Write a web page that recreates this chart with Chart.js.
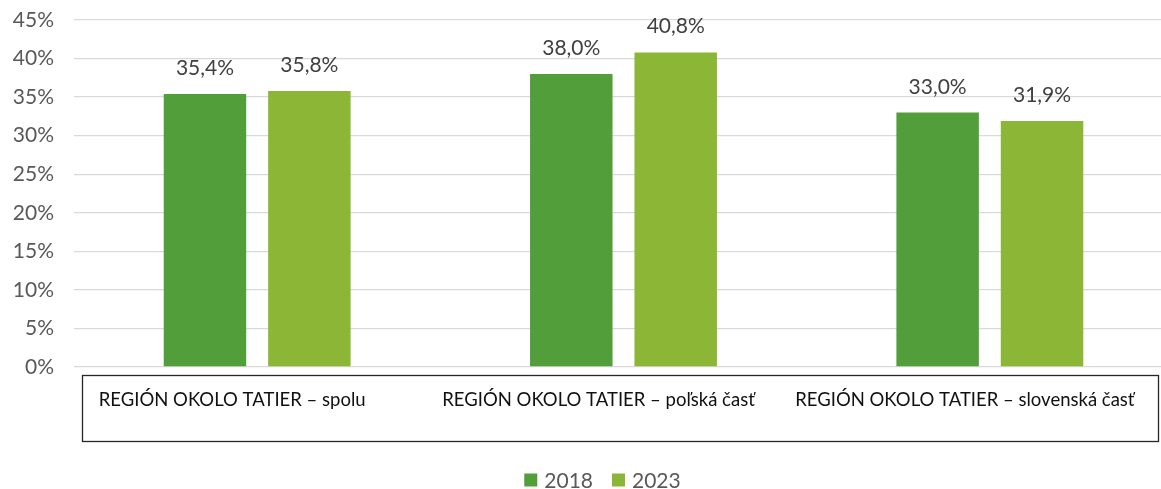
<!DOCTYPE html>
<html>
<head>
<meta charset="utf-8">
<script src="https://cdn.jsdelivr.net/npm/chart.js@4.4.1/dist/chart.umd.min.js"></script>
<style>
  html, body { margin: 0; padding: 0; background: #fff; overflow: hidden; }
  #wrap { width: 1174px; height: 489px; }
</style>
</head>
<body>
<div id="wrap"><canvas id="graf"></canvas></div>
<script>
const kategorie = [
  "REGIÓN OKOLO TATIER – spolu",
  "REGIÓN OKOLO TATIER – poľská časť",
  "REGIÓN OKOLO TATIER – slovenská časť"
];
const roky = ["2018", "2023"];
const hodnoty2018 = [35.4, 38.0, 33.0];
const hodnoty2023 = [35.8, 40.8, 31.9];
const farby = ["#519e3a", "#8cb736"];

const PISMO = "Lato, 'Open Sans', sans-serif";

function formatPercento(v) {
  return v.toFixed(1).replace(".", ",") + "%";
}

// hodnoty nad stĺpcami
const popisky = {
  id: "popisky",
  afterDatasetsDraw(chart) {
    const ctx = chart.ctx;
    ctx.save();
    ctx.font = "21px " + PISMO;
    ctx.fillStyle = "#404040";
    ctx.textAlign = "center";
    ctx.textBaseline = "alphabetic";
    chart.data.datasets.forEach((ds, i) => {
      chart.getDatasetMeta(i).data.forEach((bar, j) => {
        ctx.fillText(formatPercento(ds.data[j]), bar.x, bar.y - 19);
      });
    });
    ctx.restore();
  }
};

// rámček s názvami kategórií pod osou + legenda
const ramcek = {
  id: "ramcek",
  afterDraw(chart) {
    const ctx = chart.ctx;
    const area = chart.chartArea;
    const x = chart.scales.x;
    ctx.save();
    ctx.strokeStyle = "#262626";
    ctx.lineWidth = 1.3;
    ctx.strokeRect(area.left + 8.5, area.bottom + 8.5, area.right - area.left - 23, 66);
    ctx.font = "18.5px " + PISMO;
    ctx.fillStyle = "#111";
    ctx.textAlign = "center";
    ctx.textBaseline = "middle";
    kategorie.forEach((k, i) => {
      ctx.fillText(k, x.getPixelForValue(i) - 25, area.bottom + 33);
    });

    // legenda
    ctx.font = "21px " + PISMO;
    ctx.textAlign = "left";
    const box = 13, medzera = 7, odstup = 19;
    const sirky = roky.map(r => ctx.measureText(r).width);
    let spolu = sirky.reduce((a, b) => a + b, 0) + roky.length * (box + medzera) + odstup * (roky.length - 1);
    let lx = (area.left + area.right) / 2 - 21 - spolu / 2;
    const ly = area.bottom + 113;
    roky.forEach((r, i) => {
      ctx.fillStyle = farby[i];
      ctx.fillRect(lx, ly - box / 2, box, box);
      lx += box + medzera;
      ctx.fillStyle = "#595959";
      ctx.fillText(r, lx, ly + 1);
      lx += sirky[i] + odstup;
    });
    ctx.restore();
  }
};

new Chart(document.getElementById("graf"), {
  type: "bar",
  data: {
    labels: kategorie,
    datasets: [
      { label: roky[0], data: hodnoty2018, backgroundColor: farby[0] },
      { label: roky[1], data: hodnoty2023, backgroundColor: farby[1] }
    ]
  },
  options: {
    responsive: true,
    maintainAspectRatio: false,
    animation: false,
    layout: { padding: { top: 20, right: 1, left: 0, bottom: 0 } },
    categoryPercentage: 0.57,
    barPercentage: 0.79,
    scales: {
      x: {
        grid: { display: false },
        border: { display: false },
        ticks: { display: false },
        afterFit: (scale) => { scale.height = 122; }
      },
      y: {
        min: 0,
        max: 45,
        ticks: {
          stepSize: 5,
          callback: (v) => v + "%",
          font: { family: PISMO, size: 21 },
          color: "#595959",
          padding: 20
        },
        afterFit: (scale) => {
          scale.width = 74;
          scale.paddingTop = 0;
          scale.paddingBottom = 0;
        },
        grid: { color: "#d9d9d9", lineWidth: 1.3, drawTicks: false },
        border: { display: false }
      }
    },
    plugins: {
      legend: { display: false },
      tooltip: { enabled: false }
    }
  },
  plugins: [popisky, ramcek]
});
</script>
</body>
</html>
